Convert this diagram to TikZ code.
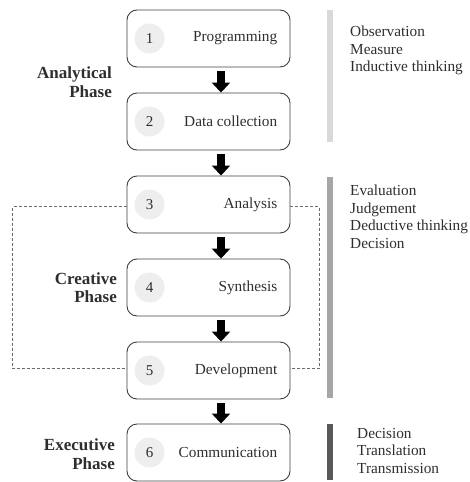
\documentclass[tikz,border=0pt]{standalone}
\usepackage{fontspec}
\setmainfont{Liberation Serif}
\usetikzlibrary{arrows.meta,calc}
\definecolor{boxline}{HTML}{404040}
\definecolor{txt}{HTML}{2E2E2E}
\definecolor{numfill}{HTML}{EEEEEE}
\definecolor{barA}{HTML}{D9D9D9}
\definecolor{barB}{HTML}{A6A6A6}
\definecolor{barC}{HTML}{595959}
\definecolor{dashcol}{HTML}{6A6A6A}
\begin{document}
\begin{tikzpicture}[x=1pt,y=-1pt,
  stepbox/.style={draw=boxline,line width=0.9pt,rounded corners=10pt,
    minimum width=163pt,minimum height=57pt,inner sep=0pt},
  numdot/.style={circle,fill=numfill,minimum size=30pt,inner sep=0pt,
    text=txt,font=\fontsize{15}{17}\selectfont},
  steplabel/.style={anchor=east,inner sep=0pt,text=txt,font=\fontsize{15.3}{17.5}\selectfont},
  phaselabel/.style={anchor=east,align=right,inner sep=0pt,text=txt,
    font=\fontsize{17}{18.5}\selectfont\bfseries},
  notes/.style={anchor=north west,align=left,inner sep=0pt,text=txt,
    font=\fontsize{15.3}{17.5}\selectfont},
  blockarrow/.style={line width=8pt,black,shorten <=4pt,
    -{Triangle[width=18pt,length=10pt]}},
  loopline/.style={dashcol,line width=0.8pt,dash pattern=on 3pt off 2pt}]
\useasboundingbox (0,0) rectangle (469,482);

% process steps
\node[stepbox] (b1) at (208.5,38.5) {};
\node[stepbox] (b2) at (208.5,121.5) {};
\node[stepbox] (b3) at (208.5,204.5) {};
\node[stepbox] (b4) at (208.5,287.5) {};
\node[stepbox] (b5) at (208.5,370.5) {};
\node[stepbox] (b6) at (208.5,452.5) {};

\foreach \b/\n/\t in {b1/1/Programming,b2/2/Data collection,b3/3/Analysis,
                      b4/4/Synthesis,b5/5/Development,b6/6/Communication}{
  \node[numdot] (\b n) at ([xshift=23pt]\b.west) {\n};
  \node[steplabel] (\b t) at ([xshift=-13pt]\b.east) {\t};
}

% flow arrows
\foreach \a/\b in {b1/b2,b2/b3,b3/b4,b4/b5,b5/b6}{
  \draw[blockarrow] ([xshift=12.5pt]\a.south) -- ([xshift=12.5pt]\b.north);
}

% feedback loop around the creative phase
\draw[loopline] ([yshift=-2pt]b3.west) -- ++(-114,0) |- ([yshift=2pt]b5.west);
\draw[loopline] ([yshift=-2pt]b3.east) -- ++(29,0) |- ([yshift=2pt]b5.east);

% phase names
\node[phaselabel] (p1) at (112,82) {Analytical\\Phase};
\node[phaselabel] (p2) at (117,287.5) {Creative\\Phase};
\node[phaselabel] (p3) at (115,454) {Executive\\Phase};

% phase bars
\fill[barA] (327,10) rectangle (333,142);
\fill[barB] (327,177) rectangle (333,398);
\fill[barC] (327,424) rectangle (333,480);

% activities
\node[notes] (n1) at (350,26) {Observation\\Measure\\Inductive thinking};
\node[notes] (n2) at (350,185) {Evaluation\\Judgement\\Deductive thinking\\Decision};
\node[notes] (n3) at (357,428) {Decision\\Translation\\Transmission};
\end{tikzpicture}
\end{document}
